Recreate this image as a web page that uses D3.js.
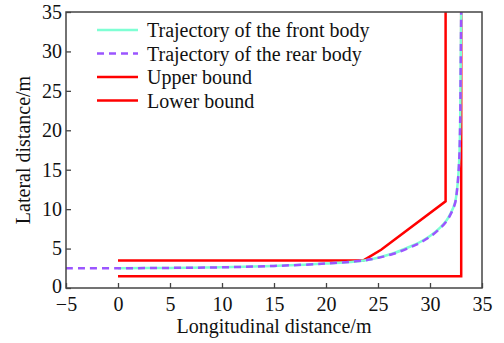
<!DOCTYPE html>
<html>
<head>
<meta charset="utf-8">
<script src="https://cdn.jsdelivr.net/npm/d3@7"></script>
<style>
  body { margin: 0; background: #fff; }
  text { font-family: "Liberation Serif", "Times New Roman", serif; fill: #111; }
</style>
</head>
<body>
<svg id="chart"></svg>
<script>
// trajectory of the front body
const frontX = [0, 5, 10, 15, 20, 23.7, 25, 26.5, 28, 29, 30, 31, 31.6, 32, 32.4, 32.6, 32.8, 32.9, 32.95, 33]
const frontY = [2.5, 2.55, 2.62, 2.8, 3.1, 3.5, 3.85, 4.4, 5.2, 5.8, 6.6, 7.7, 8.6, 9.5, 10.8, 12.5, 16, 21, 28, 35]
// trajectory of the rear body (starts behind the origin)
const rearX = [-5, 0, 5, 10, 15, 20, 23.7, 25, 26.5, 28, 29, 30, 31, 31.6, 32, 32.4, 32.6, 32.8, 32.9, 32.95, 33]
const rearY = [2.5, 2.5, 2.55, 2.62, 2.8, 3.1, 3.5, 3.82, 4.35, 5.1, 5.7, 6.5, 7.6, 8.5, 9.4, 10.7, 12.4, 16, 21, 28, 35]
// bounds
const upperX = [0, 23.6, 25.3, 31.5, 31.5]
const upperY = [3.5, 3.5, 4.85, 11, 35]
const lowerX = [0, 33, 33]
const lowerY = [1.5, 1.5, 35]

const xTicks = [-5, 0, 5, 10, 15, 20, 25, 30, 35]
const yTicks = [0, 5, 10, 15, 20, 25, 30, 35]
const legendLabels = ["Trajectory of the front body", "Trajectory of the rear body", "Upper bound", "Lower bound"]

const svgWidth = 504, svgHeight = 343
const margin = { top: 12, right: 22, bottom: 55, left: 66 }
const width = svgWidth - margin.left - margin.right
const height = svgHeight - margin.top - margin.bottom

const svg = d3.select("#chart")
              .attr("width", svgWidth)
              .attr("height", svgHeight)

const g = svg.append("g")
             .attr("transform", `translate(${margin.left},${margin.top})`)

const xs = d3.scaleLinear().domain([-5, 35]).range([0, width])
const ys = d3.scaleLinear().domain([0, 35]).range([height, 0])

const zip = (xa, ya) => xa.map((x, i) => ({ x: x, y: ya[i] }))

const straight = d3.line().x(d => xs(d.x)).y(d => ys(d.y))
const smooth = d3.line().x(d => xs(d.x)).y(d => ys(d.y)).curve(d3.curveCatmullRom.alpha(0.5))

const series = [
  { data: zip(lowerX, lowerY), color: "#ff0000", dash: null, line: straight },
  { data: zip(upperX, upperY), color: "#ff0000", dash: null, line: straight },
  { data: zip(frontX, frontY), color: "#7fffd4", dash: null, line: smooth },
  { data: zip(rearX, rearY), color: "#9b55ff", dash: "7,5", line: smooth }
]

series.forEach(s => {
  g.append("path")
    .datum(s.data)
    .attr("fill", "none")
    .attr("stroke", s.color)
    .attr("stroke-width", 2.5)
    .attr("stroke-dasharray", s.dash)
    .attr("d", s.line)
})

// axes, ticks pointing inward
const xAxis = g.append("g")
  .attr("transform", `translate(0,${height})`)
  .call(d3.axisBottom(xs).tickValues(xTicks).tickSize(-5).tickPadding(9).tickFormat(d => d < 0 ? "\u2212" + Math.abs(d) : d))
const yAxis = g.append("g")
  .call(d3.axisLeft(ys).tickValues(yTicks).tickSize(-5).tickPadding(4))

;[xAxis, yAxis].forEach(a => {
  a.select(".domain").remove()
  a.selectAll(".tick line").attr("stroke", "#444").attr("stroke-width", 1.3)
  a.selectAll(".tick text")
    .attr("font-family", "Liberation Serif, serif")
    .attr("font-size", 20)
    .attr("fill", "#111")
})
// the "0" on the y axis sits a touch higher so it clears the x labels
yAxis.selectAll(".tick text").filter(d => d === 0).attr("dy", "0.2em")

// frame
g.append("rect")
  .attr("width", width).attr("height", height)
  .attr("fill", "none")
  .attr("stroke", "#444")
  .attr("stroke-width", 1.5)

// axis titles
svg.append("text")
  .attr("x", margin.left + width / 2)
  .attr("y", 333)
  .attr("text-anchor", "middle")
  .attr("font-size", 20)
  .text("Longitudinal distance/m")

svg.append("text")
  .attr("transform", `translate(30,${margin.top + height / 2}) rotate(-90)`)
  .attr("text-anchor", "middle")
  .attr("font-size", 20)
  .text("Lateral distance/m")

// legend
const legendStyles = [
  { color: "#7fffd4", dash: null },
  { color: "#9b55ff", dash: "7,5" },
  { color: "#ff0000", dash: null },
  { color: "#ff0000", dash: null }
]
const legend = svg.append("g").attr("transform", "translate(97,30)")
legendLabels.forEach((label, i) => {
  const row = legend.append("g").attr("transform", `translate(0,${i * 23.5})`)
  row.append("line")
    .attr("x1", 0).attr("x2", 41)
    .attr("stroke", legendStyles[i].color)
    .attr("stroke-width", 2.5)
    .attr("stroke-dasharray", legendStyles[i].dash)
  row.append("text")
    .attr("x", 50).attr("y", 7)
    .attr("font-size", 20)
    .text(label)
})
</script>
</body>
</html>
